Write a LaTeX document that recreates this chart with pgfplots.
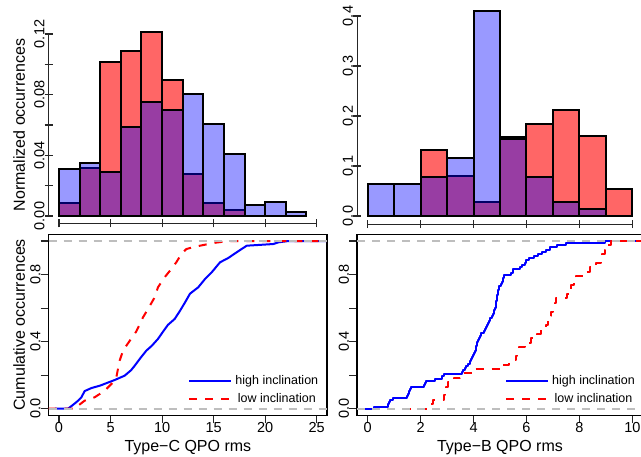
\documentclass[border=0pt]{standalone}
\usepackage{fontspec}
\setmainfont{Liberation Sans}
\usepackage{pgfplots}
\pgfplotsset{compat=1.18}
\definecolor{rgrey}{RGB}{190,190,190}

\pgfplotsset{
  rbase/.style={
    scale only axis, anchor=south west,
    /pgf/number format/assume math mode=true,
    tick align=outside, major tick length=8pt,
    tick style={black!85, line width=1.1pt},
    tick pos=left,
    ticklabel style={font=\fontsize{14.5}{17}\selectfont},
    xticklabel style={inner sep=0pt, yshift=1.5pt},
    yticklabel style={rotate=90, anchor=south, inner sep=0pt},
    every axis y label/.style={at={(axis description cs:-0.0852,0.5)}, rotate=90, anchor=base,
      inner sep=0pt, font=\fontsize{16}{19}\selectfont},
  },
  rhist/.style={rbase, clip=false,
    axis x line=bottom, axis y line=left, axis line style={draw=none},
    xticklabels={}},
  rcdf/.style={rbase,
    axis line style={line width=1.6pt},
    height=181.1pt, ymin=-0.04, ymax=1.04,
    ytick={0,0.2,0.4,0.6,0.8,1}, yticklabels={0.0,,0.4,,0.8,},
    every axis x label/.style={at={(axis description cs:0.5,-0.200)}, anchor=base,
      inner sep=0pt, font=\fontsize{16}{19}\selectfont},
    legend image code/.code={\draw[##1, line width=2pt] (0pt,0pt) -- (42pt,0pt);},
    legend style={draw=none, fill=none, anchor=north west, inner sep=0pt,
      row sep=7pt, column sep=3pt,
      nodes={inner sep=0pt, font=\fontsize{12.5}{15}\selectfont}},
  },
  redbar/.style={ybar, bar width=2, bar shift=0pt, fill=red, fill opacity=0.6, draw=black, line width=2pt},
  bluebar/.style={ybar, bar width=2, bar shift=0pt, fill=blue, fill opacity=0.4, draw=black, line width=2pt},
  hiline/.style={blue, line width=2pt, line join=round},
  loline/.style={red, line width=2pt, line join=round, dash pattern=on 8pt off 8pt},
  refline/.style={rgrey, line width=2pt, dash pattern=on 8pt off 7pt, forget plot},
}

\begin{document}
\begin{tikzpicture}
\useasboundingbox (0,0) rectangle (641pt,456pt);

% top left: Type-C histogram
\begin{axis}[rhist, at={(48.7pt,232.7pt)}, width=278.3pt, height=196.6pt,
  xmin=-1, xmax=26, ymin=-0.0048, ymax=0.1248,
  xtick={0,5,10,15,20,25},
  ytick={0,0.02,0.04,0.06,0.08,0.1,0.12}, yticklabels={0.00,,0.04,,0.08,,0.12},
  ylabel={Normalized occurrences}]
\addplot[redbar] coordinates {(1,0.0084) (3,0.0314) (5,0.1015) (7,0.109) (9,0.121) (11,0.0897)
  (13,0.0277) (15,0.0084) (17,0.004) (19,0) (21,0) (23,0)};
\addplot[bluebar] coordinates {(1,0.0312) (3,0.0349) (5,0.0292) (7,0.0589) (9,0.0752) (11,0.0697)
  (13,0.0804) (15,0.0607) (17,0.0407) (19,0.0075) (21,0.0095) (23,0.0024)};
\draw[black!85, line width=1.1pt] (axis cs:0,-0.0048) -- (axis cs:25,-0.0048);
\draw[black!85, line width=1.1pt] (axis cs:-1,0) -- (axis cs:-1,0.12);
\end{axis}

% top right: Type-B histogram
\begin{axis}[rhist, at={(357.1pt,231.8pt)}, width=285.8pt, height=221.4pt,
  xmin=-0.4, xmax=10.4, ymin=-0.0164, ymax=0.4264,
  xtick={0,2,4,6,8,10},
  ytick={0,0.1,0.2,0.3,0.4}, yticklabels={0.0,0.1,0.2,0.3,0.4},
  redbar/.append style={bar width=1}, bluebar/.append style={bar width=1}]
\addplot[redbar] coordinates {(0.5,0) (1.5,0) (2.5,0.131) (3.5,0.0807) (4.5,0.027) (5.5,0.158)
  (6.5,0.184) (7.5,0.211) (8.5,0.159) (9.5,0.053)};
\addplot[bluebar] coordinates {(0.5,0.064) (1.5,0.064) (2.5,0.077) (3.5,0.115) (4.5,0.41) (5.5,0.153)
  (6.5,0.077) (7.5,0.027) (8.5,0.013)};
\draw[black!85, line width=1.1pt] (axis cs:0,-0.0164) -- (axis cs:10,-0.0164);
\draw[black!85, line width=1.1pt] (axis cs:-0.4,0) -- (axis cs:-0.4,0.4);
\end{axis}

% bottom left: Type-C cumulative
\begin{axis}[rcdf, at={(48.7pt,40.6pt)}, width=278.3pt,
  xmin=-1, xmax=26, xtick={0,5,10,15,20,25},
  xlabel={Type−C QPO rms}, ylabel={Cumulative occurrences},
  legend style={at={(axis description cs:0.5016,0.219)}}]
\addplot[hiline] coordinates {(-0.4,0) (0.87,0) (1.3,0.02) (1.8,0.045) (2.17,0.068) (2.49,0.105)
  (3.14,0.123) (4.0,0.138) (4.59,0.152) (5.4,0.171) (6.37,0.197) (7.0,0.23) (7.34,0.256)
  (8.0,0.31) (8.47,0.346) (9.0,0.375) (9.6,0.416) (10.1,0.46) (10.57,0.5) (11.22,0.535)
  (11.7,0.58) (12.19,0.63) (12.71,0.686) (13.51,0.724) (14.16,0.773) (14.81,0.813)
  (15.62,0.873) (16.43,0.899) (17.24,0.933) (18.21,0.972) (20.79,0.982) (21.28,0.992)
  (22.25,1.0) (26,1.0)};
\addlegendentry{high inclination}
\addplot[loline] coordinates {(-1,0) (1.52,0) (2.0,0.025) (2.49,0.048) (3.46,0.068) (4.43,0.107)
  (5.24,0.157) (5.56,0.187) (5.88,0.286) (6.21,0.346) (6.86,0.405) (7.5,0.461) (8.15,0.545)
  (8.63,0.594) (9.28,0.664) (9.6,0.724) (10.25,0.784) (10.9,0.833) (11.38,0.873)
  (11.87,0.922) (12.35,0.952) (13.19,0.966) (14.16,0.978) (15.2,0.99) (16.5,1.0) (26,1.0)};
\addlegendentry{low inclination}
\addplot[refline] coordinates {(-1,0) (26,0)};
\addplot[refline] coordinates {(-1,1) (26,1)};
\end{axis}

% bottom right: Type-B cumulative
\begin{axis}[rcdf, at={(357.1pt,40.6pt)}, width=285.8pt,
  xmin=-0.4, xmax=10.4, xtick={0,2,4,6,8,10},
  xlabel={Type−B QPO rms},
  legend style={at={(axis description cs:0.5174,0.219)}}]
\addplot[hiline, const plot] coordinates {(-0.4,0)
  (0.25,0.0128) (0.76,0.0256) (0.8,0.0385) (0.85,0.0513) (0.95,0.0641)
  (1.5,0.0769) (1.52,0.0897) (1.55,0.1026) (1.6,0.1154) (1.65,0.1282)
  (2.12,0.1410) (2.16,0.1538) (2.2,0.1667) (2.55,0.1795) (2.8,0.1923) (2.9,0.2051)
  (3.55,0.2179) (3.62,0.2308) (3.68,0.2436) (3.72,0.2564) (3.78,0.2692) (3.85,0.2821)
  (3.9,0.2949) (3.95,0.3077) (3.98,0.3205)
  (4.02,0.3333) (4.05,0.3462) (4.08,0.3590) (4.1,0.3718) (4.12,0.3846) (4.14,0.3974)
  (4.16,0.4103) (4.2,0.4231) (4.25,0.4359) (4.3,0.4487) (4.38,0.4615) (4.42,0.4744)
  (4.48,0.4872) (4.52,0.5) (4.55,0.5128) (4.6,0.5256) (4.64,0.5385) (4.68,0.5513)
  (4.72,0.5641) (4.76,0.5769) (4.79,0.5897) (4.81,0.6026) (4.83,0.6154) (4.85,0.6282)
  (4.86,0.6410) (4.87,0.6538) (4.88,0.6667) (4.9,0.6795) (4.92,0.6923) (4.94,0.7051)
  (4.96,0.7179) (4.98,0.7308)
  (5.05,0.7436) (5.08,0.7564) (5.1,0.7692) (5.12,0.7821) (5.14,0.7949) (5.42,0.8077)
  (5.48,0.8205) (5.5,0.8333) (5.75,0.8462) (5.85,0.8590) (5.95,0.8718) (5.98,0.8846)
  (6.1,0.8974) (6.3,0.9103) (6.45,0.9231) (6.6,0.9359) (6.75,0.9487) (6.9,0.9615)
  (7.15,0.9744) (7.5,0.9872) (8.95,1.0) (10.4,1.0)};
\addlegendentry{high inclination}
\addplot[loline, const plot] coordinates {(1.35,0)
  (2.38,0.0263) (2.45,0.0526) (2.88,0.0789) (2.92,0.1053) (2.96,0.1316)
  (3.05,0.1579) (3.25,0.1842) (3.5,0.2105) (4.05,0.2368)
  (5.1,0.2632) (5.35,0.2895) (5.6,0.3158) (5.66,0.3421) (5.7,0.3684) (5.95,0.3947)
  (6.18,0.4211) (6.38,0.4474) (6.55,0.4737) (6.72,0.5) (6.8,0.5263) (6.87,0.5526) (6.93,0.5789)
  (7.02,0.6053) (7.06,0.6316) (7.1,0.6579) (7.55,0.6842) (7.6,0.7105) (7.7,0.7368)
  (7.78,0.7632) (7.88,0.7895)
  (8.15,0.8158) (8.4,0.8421) (8.62,0.8684) (8.8,0.8947) (8.85,0.9211) (8.95,0.9474)
  (9.05,0.9737) (9.18,1.0) (10.4,1.0)};
\addlegendentry{low inclination}
\addplot[refline] coordinates {(-0.4,0) (10.4,0)};
\addplot[refline] coordinates {(-0.4,1) (10.4,1)};
\end{axis}
\end{tikzpicture}
\end{document}
